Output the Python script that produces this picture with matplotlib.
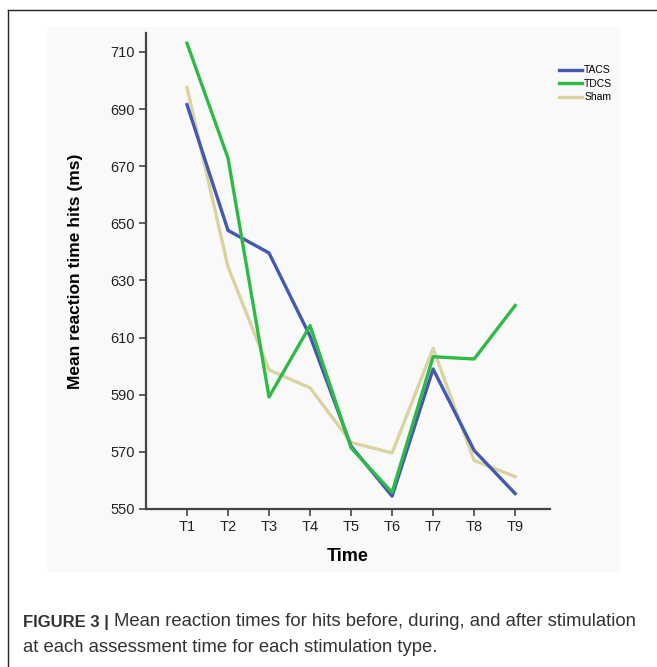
import matplotlib
matplotlib.use("Agg")
import matplotlib.pyplot as plt
from matplotlib.lines import Line2D
from matplotlib.patches import Rectangle

plt.rcParams['font.family'] = ['Liberation Sans', 'DejaVu Sans']

times = ["T1", "T2", "T3", "T4", "T5", "T6", "T7", "T8", "T9"]
tacs = [691.5, 647.5, 639.6, 610.5, 572.0, 554.5, 599.0, 570.5, 555.4]
tdcs = [713.0, 672.8, 589.2, 614.2, 571.4, 555.8, 603.3, 602.5, 621.2]
sham = [697.5, 634.7, 598.7, 592.4, 573.3, 569.6, 606.2, 567.0, 561.3]
yticks = [550, 570, 590, 610, 630, 650, 670, 690, 710]

W, H = 657, 667
fig = plt.figure(figsize=(W / 100, H / 100), dpi=100)
fig.patch.set_facecolor('white')

# faint background panel of the figure image
fig.patches.append(Rectangle((47 / W, 1 - 572 / H), (620 - 47) / W, (572 - 27) / H,
                             transform=fig.transFigure, facecolor='#f9f9f9',
                             edgecolor='none', zorder=-5))
# outer frame lines (top and left)
fig.add_artist(Line2D([8 / W, 1.0], [1 - 10 / H, 1 - 10 / H], transform=fig.transFigure,
                      color='#222222', lw=1.0))
fig.add_artist(Line2D([8 / W, 8 / W], [1 - 10 / H, 0.0], transform=fig.transFigure,
                      color='#222222', lw=1.0))

ax = fig.add_axes([146 / W, 1 - 509 / H, (550 - 146) / W, (509 - 33) / H])
ax.set_zorder(2)
ax.set_facecolor('none')
x = list(range(1, len(times) + 1))
ax.plot(x, sham, color='#d9d3a1', lw=2.4, label='Sham', zorder=2)
ax.plot(x, tacs, color='#4358b0', lw=2.4, label='TACS', zorder=3)
ax.plot(x, tdcs, color='#2fba47', lw=2.4, label='TDCS', zorder=4)

ax.set_xlim(0, 9.85)
ax.set_ylim(550, 716.6)
ax.set_xticks(x)
ax.set_xticklabels(times, fontsize=10.5, color='#222222')
ax.set_yticks(yticks)
ax.set_yticklabels([str(v) for v in yticks], fontsize=10.5, color='#222222')
for s in ['top', 'right']:
    ax.spines[s].set_visible(False)
for s in ['left', 'bottom']:
    ax.spines[s].set_color('#444444')
    ax.spines[s].set_linewidth(1.6)
ax.tick_params(axis='both', direction='out', length=5, width=1.2, color='#444444', pad=3)
ax.set_xlabel('Time', fontsize=13, fontweight='bold', labelpad=10)
ax.set_ylabel('Mean reaction time hits (ms)', fontsize=12.5, fontweight='bold', labelpad=20)

handles, labels = ax.get_legend_handles_labels()
order = [1, 2, 0]
leg = fig.legend([handles[i] for i in order], [labels[i] for i in order],
                 loc='upper left', bbox_to_anchor=(555 / W, 1 - 61 / H),
                 frameon=False, fontsize=7.5, handlelength=2.2, handletextpad=0.2,
                 labelspacing=0.35, borderaxespad=0)

fig.text(23 / W, 1 - 622 / H, 'FIGURE 3 |', fontsize=12, color='#333333',
         va='center', ha='left', fontweight='bold')
fig.text(114 / W, 1 - 622 / H,
         'Mean reaction times for hits before, during, and after stimulation',
         fontsize=13.3, color='#333333', va='center', ha='left')
fig.text(23 / W, 1 - 648 / H, 'at each assessment time for each stimulation type.',
         fontsize=13.3, color='#333333', va='center', ha='left')

fig.savefig('out.png', dpi=100)
